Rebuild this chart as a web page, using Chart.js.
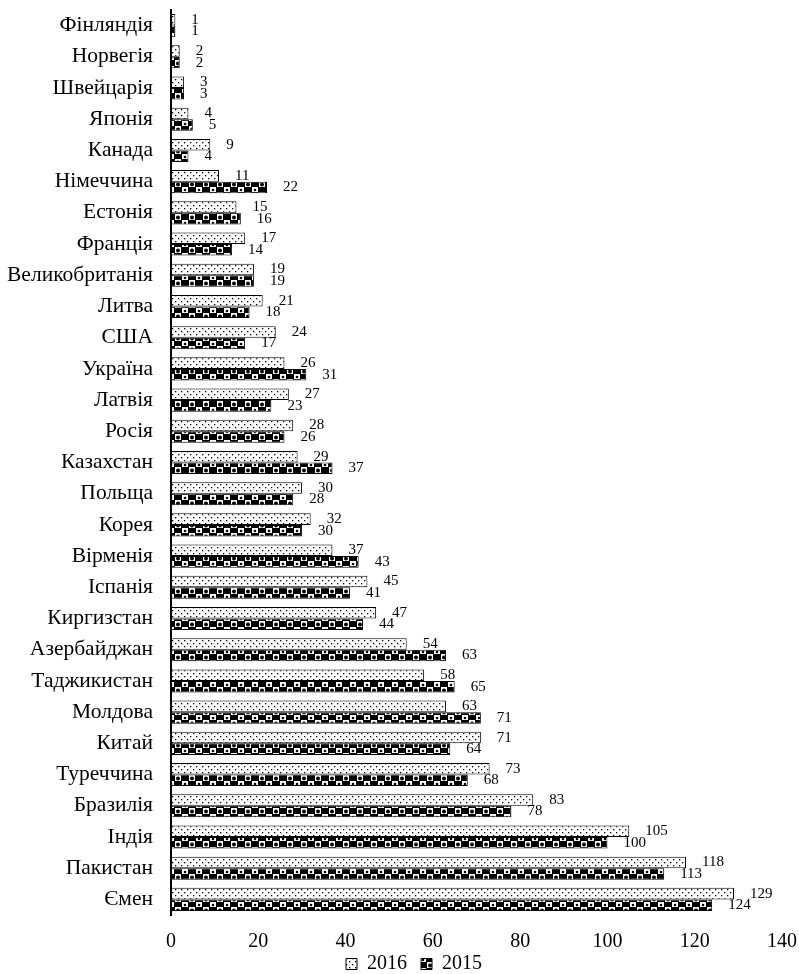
<!DOCTYPE html>
<html>
<head>
<meta charset="utf-8">
<script src="https://cdn.jsdelivr.net/npm/chart.js@4/dist/chart.umd.min.js"></script>
<style>
  html, body { margin: 0; padding: 0; background: #fff; }
  #wrap { width: 799px; height: 974px; position: relative; }
</style>
</head>
<body>
<div id="wrap"><canvas id="c"></canvas></div>
<script>
const categories = ["Фінляндія","Норвегія","Швейцарія","Японія","Канада","Німеччина","Естонія","Франція","Великобританія","Литва","США","Україна","Латвія","Росія","Казахстан","Польща","Корея","Вірменія","Іспанія","Киргизстан","Азербайджан","Таджикистан","Молдова","Китай","Туреччина","Бразилія","Індія","Пакистан","Ємен"];
const values2016 = [1,2,3,4,9,11,15,17,19,21,24,26,27,28,29,30,32,37,45,47,54,58,63,71,73,83,105,118,129];
const values2015 = [1,2,3,5,4,22,16,14,19,18,17,31,23,26,37,28,30,43,41,44,63,65,71,64,68,78,100,113,124];
const seriesNames = ["2016","2015"];
const xTicks = [0,20,40,60,80,100,120,140];

const FONT = "'Liberation Serif', 'Times New Roman', serif";

function dotPattern() {
  const c = document.createElement('canvas');
  c.width = 6; c.height = 6;
  const g = c.getContext('2d');
  g.fillStyle = '#fff'; g.fillRect(0,0,6,6);
  g.fillStyle = '#000';
  g.fillRect(1,1,1.3,1.3);
  g.fillRect(4,4,1.3,1.3);
  return g.createPattern(c, 'repeat');
}
function spherePattern() {
  const c = document.createElement('canvas');
  c.width = 14; c.height = 11;
  const g = c.getContext('2d');
  g.fillStyle = '#000'; g.fillRect(0,0,14,11);
  g.fillStyle = '#fff';
  g.fillRect(0,0,6,5);
  g.fillRect(7,5,6,6);
  g.fillStyle = '#000';
  g.beginPath(); g.arc(10,8.5,2,0,Math.PI*2); g.fill();
  g.beginPath(); g.arc(3,3,1.3,0,Math.PI*2); g.fill();
  return g.createPattern(c, 'repeat');
}

const labelPlugin = {
  id: 'valueLabels',
  beforeLayout(chart) {
    const lg = chart.legend;
    if (lg && !lg._patched) {
      const orig = lg.fit.bind(lg);
      lg.fit = function () { orig(); this.height = 15; };
      lg._patched = true;
    }
  },
  afterLayout(chart) {
    const lg = chart.legend;
    if (lg) {
      lg.left += 23; lg.right += 23;
      lg.top = 940; lg.bottom = 974;
    }
  },
  afterDatasetsDraw(chart) {
    const ctx = chart.ctx;
    ctx.save();
    ctx.font = "15px " + FONT;
    ctx.fillStyle = '#000';
    ctx.textAlign = 'left';
    ctx.textBaseline = 'middle';
    chart.data.datasets.forEach((ds, di) => {
      const meta = chart.getDatasetMeta(di);
      meta.data.forEach((bar, i) => {
        ctx.fillText(String(ds.data[i]), bar.x + 16, bar.y);
      });
    });
    ctx.restore();
  }
};

new Chart(document.getElementById('c'), {
  type: 'bar',
  data: {
    labels: categories,
    datasets: [
      { label: seriesNames[0], data: values2016, backgroundColor: dotPattern(), borderColor: '#000', borderWidth: 1, borderSkipped: false },
      { label: seriesNames[1], data: values2015, backgroundColor: spherePattern(), borderColor: '#000', borderWidth: 1, borderSkipped: false }
    ]
  },
  options: {
    indexAxis: 'y',
    responsive: true,
    maintainAspectRatio: false,
    animation: false,
    layout: { autoPadding: false, padding: { left: 0, right: 17, top: 10, bottom: 0 } },
    categoryPercentage: 0.74,
    barPercentage: 1.0,
    scales: {
      x: {
        min: 0, max: 140,
        afterBuildTicks(scale) { scale.ticks = xTicks.map(v => ({ value: v })); },
        afterFit(scale) { scale.height = 44; scale.paddingLeft = 0; scale.paddingRight = 0; },
        ticks: { font: { family: FONT, size: 20 }, color: '#000', padding: 15, maxRotation: 0 },
        grid: { display: false, drawTicks: false },
        border: { display: false }
      },
      y: {
        afterFit(scale) { scale.width = 171; scale.paddingTop = 0; scale.paddingBottom = 0; },
        ticks: { font: { family: FONT, size: 21.5 }, color: '#000', padding: 18, autoSkip: false },
        grid: { display: false, drawTicks: false },
        border: { display: true, color: '#000', width: 2 }
      }
    },
    plugins: {
      legend: {
        position: 'bottom',
        labels: { font: { family: FONT, size: 20 }, color: '#000', boxWidth: 11, boxHeight: 11, padding: 14 }
      },
      tooltip: { enabled: false }
    }
  },
  plugins: [labelPlugin]
});
</script>
</body>
</html>
